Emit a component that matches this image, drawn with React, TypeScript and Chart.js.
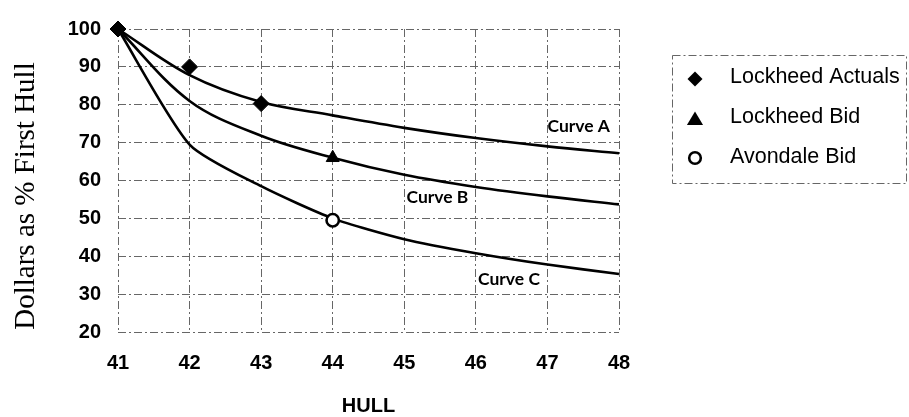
import React, { useEffect, useRef } from "react";
import { Chart, registerables } from "chart.js";

Chart.register(...registerables);

// Hull numbers on the x axis
const hulls = [41, 42, 43, 44, 45, 46, 47, 48];

// Learning curves, dollars as % of first hull
const curveA = [100, 87.8, 80.7, 77.2, 73.9, 71.2, 69.0, 67.2];
const curveB = [100, 81.0, 71.8, 66.0, 61.5, 58.3, 55.8, 53.7];
const curveC = [100, 69.5, 58.5, 50.0, 44.5, 40.8, 37.8, 35.3];

// Observed / bid points
const actualsHulls = [41, 42, 43];
const actualsValues = [100, 90, 80.3];
const lockheedBidHulls = [44];
const lockheedBidValues = [66];
const avondaleBidHulls = [44];
const avondaleBidValues = [49.5];

// Axis ticks and text
const yTicks = [20, 30, 40, 50, 60, 70, 80, 90, 100];
const yTitle = "Dollars as % First Hull";
const xTitle = "HULL";
const curveNames = ["Curve A", "Curve B", "Curve C"];
const legendNames = ["Lockheed Actuals", "Lockheed Bid", "Avondale Bid"];

const GRID = "#666";
const GRID_DASH = [8, 3, 2, 3];

const toPoints = (xs: number[], ys: number[]) => xs.map((x, i) => ({ x, y: ys[i] }));

const decorPlugin = {
  id: "decor",
  afterDraw(chart: any) {
    const ctx: CanvasRenderingContext2D = chart.ctx;
    const xs = chart.scales.x;
    const ys = chart.scales.y;

    // Vertical y-axis title
    ctx.save();
    ctx.fillStyle = "#000";
    ctx.font = "29px 'Liberation Serif', 'Times New Roman', serif";
    ctx.translate(34, 196);
    ctx.rotate(-Math.PI / 2);
    ctx.textAlign = "center";
    ctx.textBaseline = "alphabetic";
    ctx.fillText(yTitle, 0, 0);
    ctx.restore();

    // Curve labels, anchored in data space
    const labelAnchors = [
      { x: 47.0, y: 74.4 },
      { x: 45.03, y: 55.5 },
      { x: 46.03, y: 34.0 },
    ];
    ctx.save();
    ctx.fillStyle = "#000";
    ctx.font = "bold 17.5px Lato, 'DejaVu Sans', sans-serif";
    ctx.textAlign = "left";
    ctx.textBaseline = "middle";
    curveNames.forEach((name, i) => {
      ctx.fillText(name, xs.getPixelForValue(labelAnchors[i].x), ys.getPixelForValue(labelAnchors[i].y));
    });
    ctx.restore();

    // Legend box
    ctx.save();
    ctx.strokeStyle = GRID;
    ctx.lineWidth = 1;
    ctx.setLineDash(GRID_DASH);
    ctx.strokeRect(672.5, 55.5, 234, 128);
    ctx.setLineDash([]);

    const markerX = 695;
    const rows = [79, 120, 158];
    const baselines = [83, 123, 163];
    ctx.fillStyle = "#000";
    ctx.strokeStyle = "#000";

    // diamond
    ctx.beginPath();
    const d = 7.5;
    ctx.moveTo(markerX, rows[0] - d);
    ctx.lineTo(markerX + d, rows[0]);
    ctx.lineTo(markerX, rows[0] + d);
    ctx.lineTo(markerX - d, rows[0]);
    ctx.closePath();
    ctx.fill();

    // triangle
    const t = 8.5;
    ctx.beginPath();
    ctx.moveTo(markerX, rows[1] - t);
    ctx.lineTo(markerX + t * 0.95, rows[1] + t * 0.6);
    ctx.lineTo(markerX - t * 0.95, rows[1] + t * 0.6);
    ctx.closePath();
    ctx.fill();

    // open circle
    ctx.beginPath();
    ctx.lineWidth = 2.6;
    ctx.arc(markerX, rows[2], 5.8, 0, Math.PI * 2);
    ctx.fillStyle = "#fff";
    ctx.fill();
    ctx.stroke();

    ctx.fillStyle = "#000";
    ctx.font = "21.5px 'Liberation Sans', Arial, sans-serif";
    ctx.textAlign = "left";
    ctx.textBaseline = "alphabetic";
    legendNames.forEach((name, i) => ctx.fillText(name, 730, baselines[i]));
    ctx.restore();
  },
};

export default function App() {
  const canvasRef = useRef<HTMLCanvasElement | null>(null);

  useEffect(() => {
    const canvas = canvasRef.current;
    if (!canvas) return;

    const curveStyle = {
      type: "line" as const,
      showLine: true,
      borderColor: "#000",
      borderWidth: 2.6,
      pointRadius: 0,
      tension: 0.35,
      fill: false,
      clip: false as any,
    };

    const tickFont = { family: "'Liberation Sans', Arial, sans-serif", size: 20, weight: "bold" };

    const chart = new Chart(canvas, {
      type: "scatter",
      data: {
        datasets: [
          {
            label: legendNames[0],
            data: toPoints(actualsHulls, actualsValues),
            pointStyle: "rectRot",
            pointRadius: 8,
            backgroundColor: "#000",
            borderColor: "#000",
            borderWidth: 1,
            showLine: false,
            clip: false as any,
          },
          {
            label: legendNames[1],
            data: toPoints(lockheedBidHulls, lockheedBidValues),
            pointStyle: "triangle",
            pointRadius: 7.5,
            backgroundColor: "#000",
            borderColor: "#000",
            borderWidth: 1,
            showLine: false,
            clip: false as any,
          },
          {
            label: legendNames[2],
            data: toPoints(avondaleBidHulls, avondaleBidValues),
            pointStyle: "circle",
            pointRadius: 6.2,
            backgroundColor: "#fff",
            borderColor: "#000",
            borderWidth: 2.6,
            showLine: false,
            clip: false as any,
          },
          { ...curveStyle, label: curveNames[0], data: toPoints(hulls, curveA) },
          { ...curveStyle, label: curveNames[1], data: toPoints(hulls, curveB) },
          { ...curveStyle, label: curveNames[2], data: toPoints(hulls, curveC), tension: 0.22 },
        ] as any,
      },
      options: {
        responsive: false,
        animation: false,
        layout: { padding: { top: 19, right: 290, bottom: 0, left: 0 } },
        plugins: {
          legend: { display: false },
          tooltip: { enabled: false },
        },
        scales: {
          x: {
            type: "linear",
            min: hulls[0],
            max: hulls[hulls.length - 1],
            afterFit: (scale: any) => {
              scale.height = 85;
            },
            afterBuildTicks: (scale: any) => {
              scale.ticks = hulls.map((v) => ({ value: v }));
            },
            border: { display: false, dash: GRID_DASH },
            grid: {
              color: GRID,
              lineWidth: 1,
              drawTicks: false,
            },
            ticks: {
              padding: 19,
              autoSkip: false,
              maxRotation: 0,
              color: "#000",
              font: tickFont,
            },
            title: {
              display: true,
              text: xTitle,
              color: "#000",
              padding: { top: 0, bottom: 0 },
              font: { family: "'Liberation Sans', Arial, sans-serif", size: 20, weight: "bold", lineHeight: 1.1 },
            },
          },
          y: {
            type: "linear",
            min: yTicks[0],
            max: yTicks[yTicks.length - 1],
            afterFit: (scale: any) => {
              scale.width = 118;
            },
            afterBuildTicks: (scale: any) => {
              scale.ticks = yTicks.map((v) => ({ value: v }));
            },
            border: { display: false, dash: GRID_DASH },
            grid: {
              color: GRID,
              lineWidth: 1,
              drawTicks: false,
            },
            ticks: {
              padding: 17,
              color: "#000",
              font: tickFont,
            },
          },
        },
      } as any,
      plugins: [decorPlugin],
    });

    return () => chart.destroy();
  }, []);

  return (
    <div style={{ position: "fixed", left: 0, top: 0, width: 909, height: 417, background: "#fff" }}>
      <canvas ref={canvasRef} width={909} height={417} />
    </div>
  );
}
